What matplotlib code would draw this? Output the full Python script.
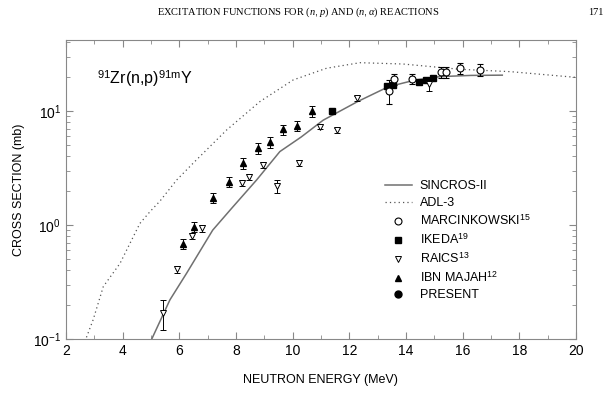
import numpy as np
import matplotlib
matplotlib.use("Agg")
import matplotlib.pyplot as plt
from matplotlib.lines import Line2D

plt.rcParams["font.family"] = ["Liberation Sans", "DejaVu Sans"]
plt.rcParams["mathtext.fontset"] = "custom"
plt.rcParams["mathtext.rm"] = "Liberation Sans"
plt.rcParams["mathtext.it"] = "Liberation Serif:italic"

# --- data (MeV, mb) ---
sincros_e = [4.99, 5.67, 6.26, 7.18, 7.85, 8.73, 9.55, 10.3, 11.08, 12.3, 13.38, 14.3, 15.2, 16.3, 17.4]
sincros_s = [0.095, 0.22, 0.377, 0.90, 1.40, 2.48, 4.4, 5.9, 8.3, 12.1, 16.3, 18.6, 20.0, 20.5, 20.6]

adl_e = [2.67, 2.96, 3.32, 3.91, 4.61, 4.97, 5.32, 5.91, 6.49, 7.67, 8.85, 10.02, 11.2, 12.38, 13.9, 15.9, 17.7, 20.0]
adl_s = [0.095, 0.147, 0.288, 0.46, 1.03, 1.31, 1.62, 2.48, 3.48, 6.8, 12.1, 18.7, 23.7, 26.5, 25.8, 23.2, 22.1, 19.7]

marc_e = [13.41, 13.59, 14.22, 15.22, 15.41, 15.9, 16.61]
marc_s = [15.1, 19.0, 19.1, 21.8, 21.8, 23.7, 22.9]
marc_err = [3.6, 2.2, 2.0, 2.3, 2.3, 2.6, 2.8]

ikeda_e = [11.4, 13.32, 13.55, 14.47, 14.71, 14.94]
ikeda_s = [9.9, 16.7, 16.9, 18.1, 18.7, 19.4]

raics_e = [5.43, 5.93, 6.45, 6.82, 8.2, 8.47, 8.94, 9.46, 10.24, 10.97, 11.55, 12.26, 14.8]
raics_s = [0.17, 0.41, 0.80, 0.935, 2.35, 2.65, 3.36, 2.2, 3.52, 7.3, 6.8, 12.9, 17.3]
raics_err = [0.05, 0.03, 0.05, 0.06, 0.15, 0.16, 0.2, 0.28, 0.2, 0.35, 0.35, 0.6, 2.4]

ibn_e = [6.14, 6.52, 7.2, 7.75, 8.24, 8.77, 9.22, 9.67, 10.16, 10.67]
ibn_s = [0.68, 0.96, 1.72, 2.38, 3.47, 4.7, 5.3, 6.9, 7.4, 9.9]
ibn_err = [0.07, 0.1, 0.17, 0.24, 0.4, 0.5, 0.55, 0.7, 0.75, 1.1]

present_e = []
present_s = []

fig = plt.figure(figsize=(6.16, 3.95), dpi=100)
ax = fig.add_axes([0.107, 0.142, 0.828, 0.757])

sincros_style = dict(color="#707070", lw=1.1)
adl_style = dict(color="#555555", lw=0.9, ls=(0, (1, 2.5)))
ax.plot(sincros_e, sincros_s, **sincros_style)
ax.plot(adl_e, adl_s, **adl_style)

eb = dict(ecolor="black", elinewidth=0.7, capsize=2.5, capthick=0.7, ls="none")
marc_m = dict(marker="o", mfc="white", mec="black", ms=5, mew=0.8)
ikeda_m = dict(marker="s", mfc="black", mec="black", ms=4.5)
raics_m = dict(marker="v", mfc="white", mec="black", ms=5, mew=0.7)
ibn_m = dict(marker="^", mfc="black", mec="black", ms=5)
present_m = dict(marker="o", mfc="black", mec="black", ms=5)

ax.errorbar(marc_e, marc_s, yerr=marc_err, **marc_m, **eb)
ax.plot(ikeda_e, ikeda_s, ls="none", **ikeda_m)
ax.errorbar(raics_e, raics_s, yerr=raics_err, **raics_m, **eb)
ax.errorbar(ibn_e, ibn_s, yerr=ibn_err, **ibn_m, **eb)
ax.plot(present_e, present_s, ls="none", **present_m)

ax.set_yscale("log")
ax.set_xlim(2, 20)
ax.set_ylim(0.1, 42)
ax.set_xticks(np.arange(2, 21, 2))
ax.set_xticks(np.arange(2, 21, 1), minor=True)
ax.tick_params(which="both", direction="in", top=True, right=True, color="#888888",
               labelsize=10)
ax.tick_params(which="major", length=5)
ax.tick_params(which="minor", length=3)
for s in ax.spines.values():
    s.set_color("#888888")
    s.set_linewidth(0.8)

ax.set_xlabel("NEUTRON ENERGY (MeV)", fontsize=9, labelpad=12)
ax.set_ylabel("CROSS SECTION (mb)", fontsize=9, labelpad=6)

ax.text(0.06, 0.87, "$^{91}$Zr(n,p)$^{\\mathrm{91m}}$Y", transform=ax.transAxes,
        fontsize=11.5, va="center", ha="left")

handles = [
    Line2D([], [], **sincros_style),
    Line2D([], [], **adl_style),
    Line2D([], [], ls="none", **marc_m),
    Line2D([], [], ls="none", **ikeda_m),
    Line2D([], [], ls="none", **raics_m),
    Line2D([], [], ls="none", **ibn_m),
    Line2D([], [], ls="none", **present_m),
]
labels = ["SINCROS-II", "ADL-3", "MARCINKOWSKI$^{15}$", "IKEDA$^{19}$",
          "RAICS$^{13}$", "IBN MAJAH$^{12}$", "PRESENT"]
ax.legend(handles, labels, loc="upper left", bbox_to_anchor=(0.625, 0.53),
          frameon=False, fontsize=9, handlelength=2.2, labelspacing=0.36,
          handletextpad=0.6, borderpad=0, borderaxespad=0)

fig.text(0.485, 0.968, "EXCITATION FUNCTIONS FOR ($n,p$) AND ($n,\\alpha$) REACTIONS",
         family="Liberation Serif", fontsize=7.5, ha="center", va="center")
fig.text(0.98, 0.968, "171", family="Liberation Serif", fontsize=7.5,
         ha="right", va="center")

fig.savefig("out.png", dpi=100)
